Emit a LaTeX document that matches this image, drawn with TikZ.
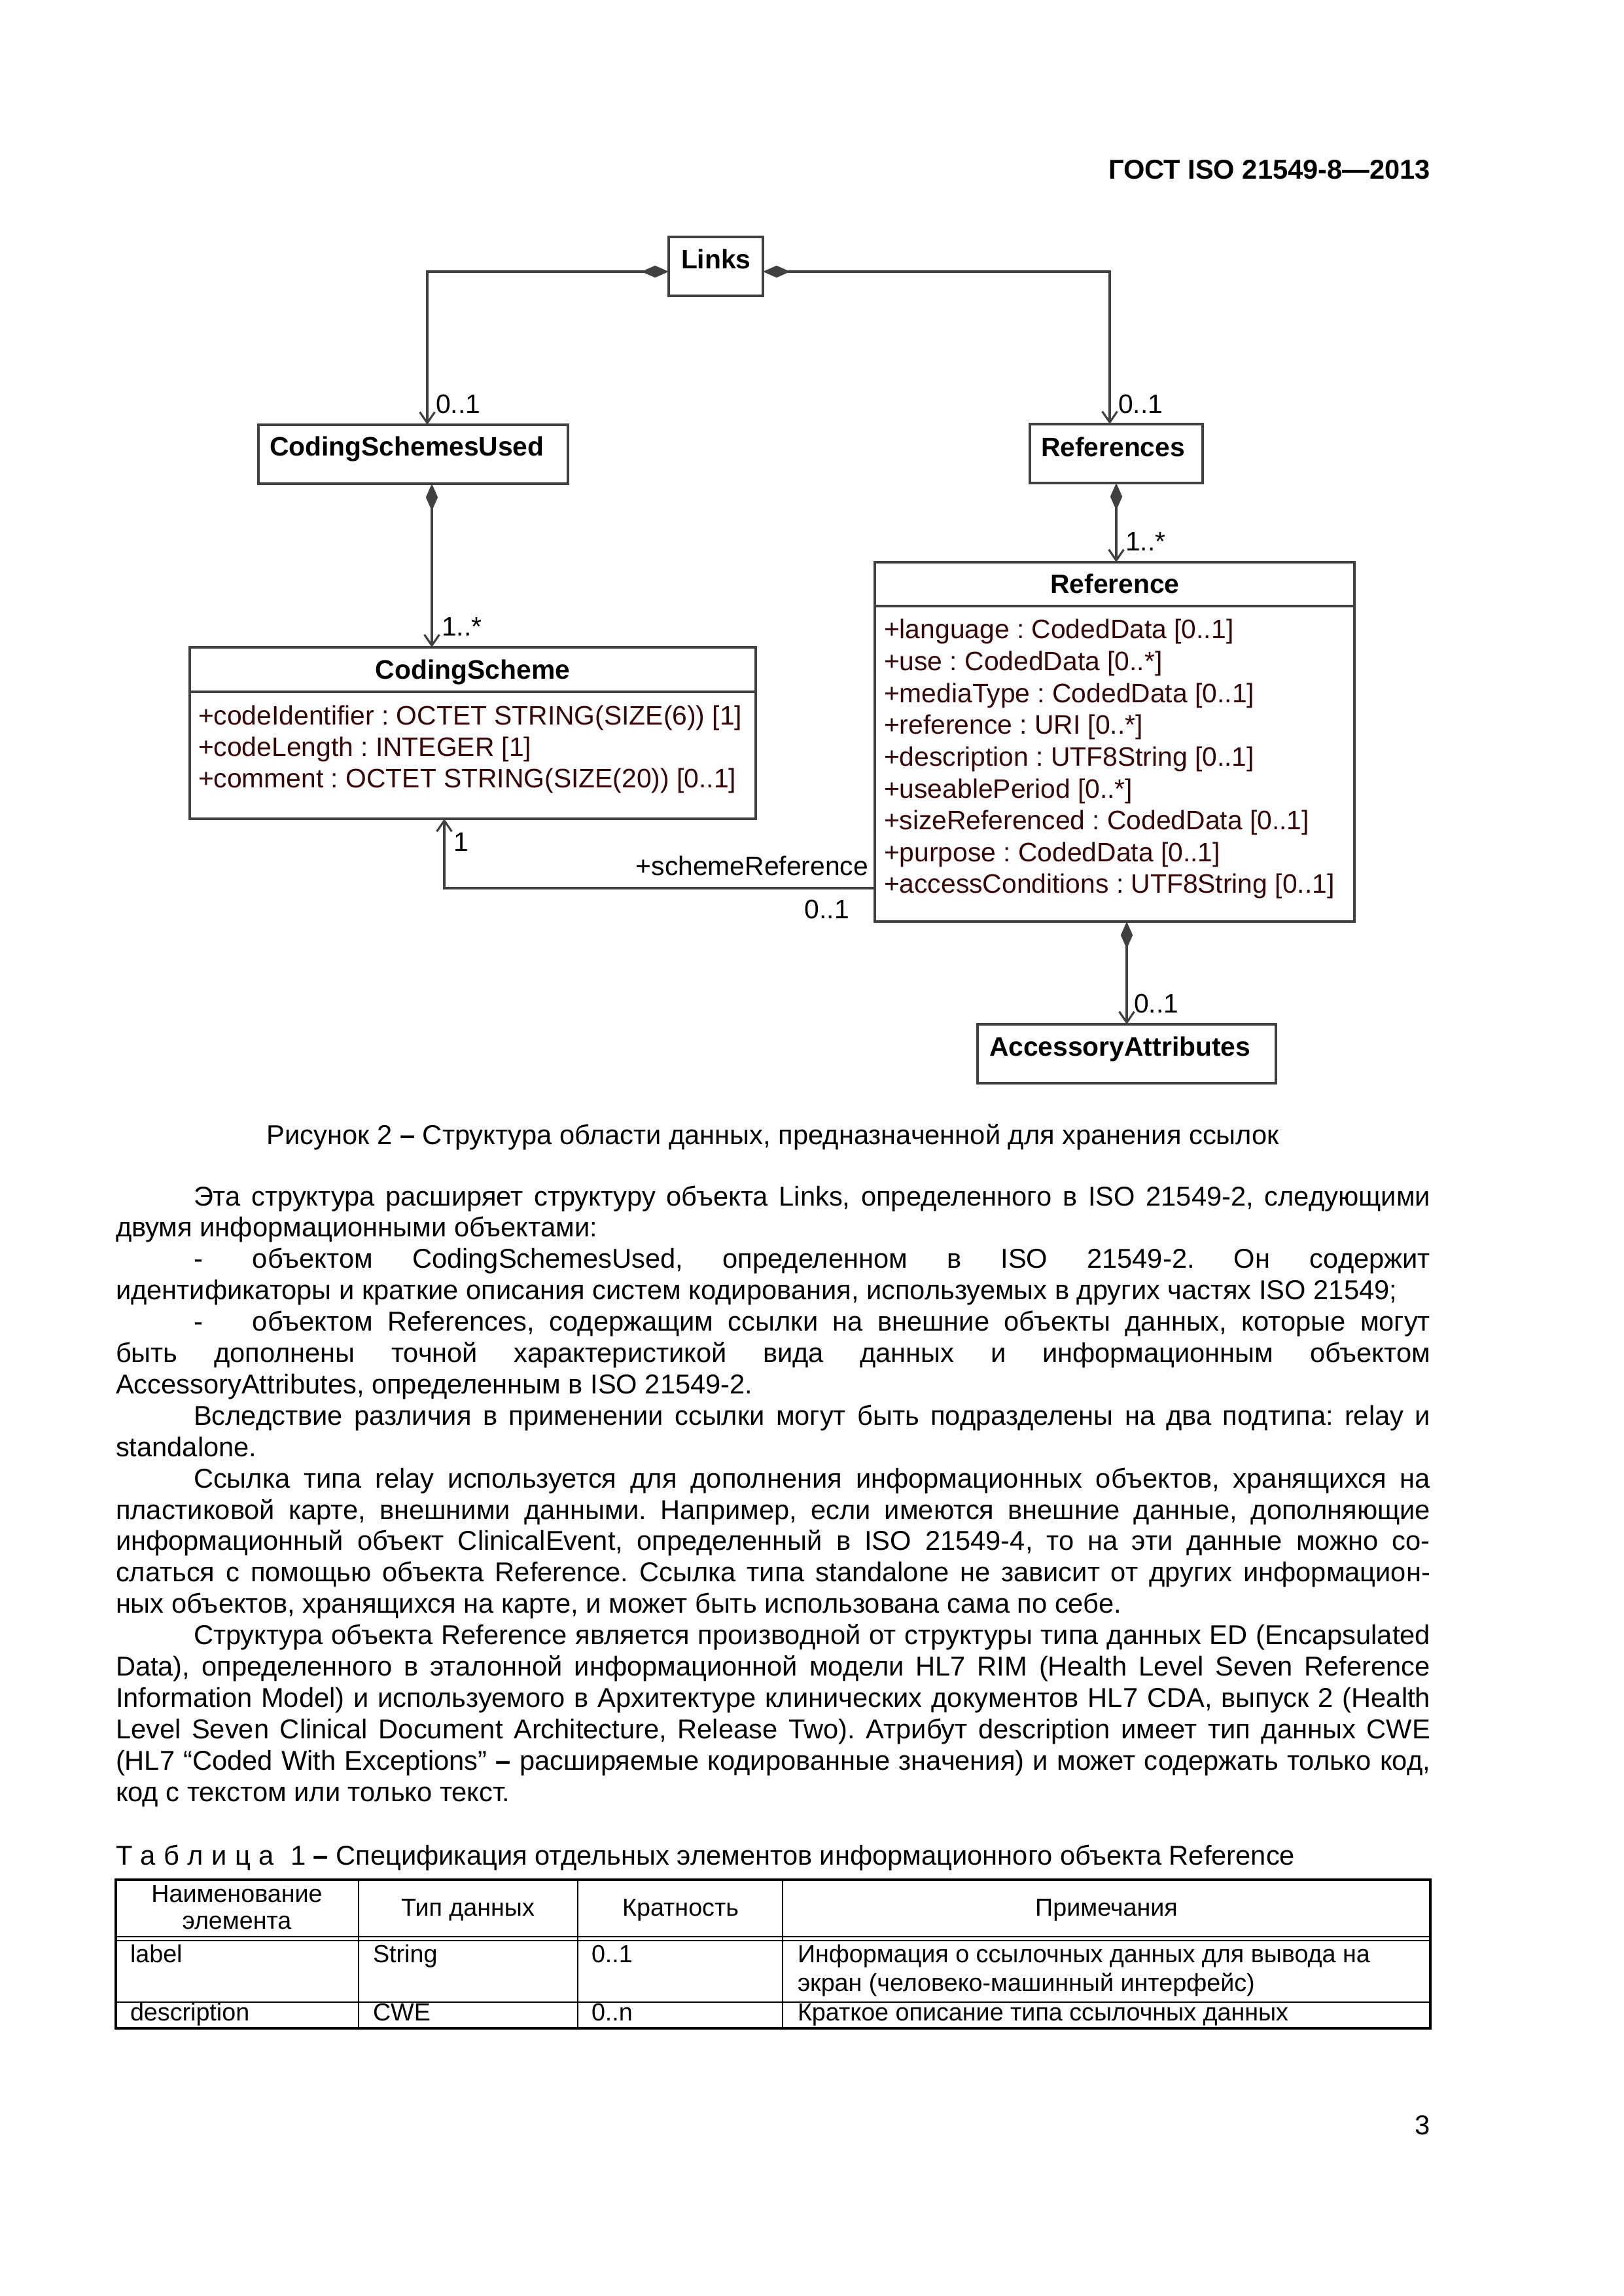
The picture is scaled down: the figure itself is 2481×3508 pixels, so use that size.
\documentclass[tikz,border=0pt]{standalone}
\usepackage{fontspec}
\setmainfont{Liberation Sans}
\usetikzlibrary{arrows.meta,calc,fit}
\frenchspacing
\newlength\pxu \setlength\pxu{0.2401pt}
\definecolor{lc}{RGB}{64,64,64}
\definecolor{ac}{RGB}{55,5,5}
\newcommand\bodyf{\fontsize{10}{11.5}\selectfont}
\newcommand\dgf{\fontsize{9.8}{11.6}\selectfont}
\newcommand\tabf{\fontsize{9.05}{10.8}\selectfont}
\newcommand\jline[5]{\node[txt] (#1) at (#2,#3) {\makebox[#4\pxu][s]{#5}};}
\newcommand\lline[4]{\node[txt] (#1) at (#2,#3) {#4};}
\tikzset{
  every node/.style={inner sep=0pt, outer sep=0pt},
  txt/.style={anchor=base west, font=\bodyf},
  box/.style={draw=lc, line width=0.85pt},
  cname/.style={anchor=base west, font=\dgf\bfseries},
  cnamec/.style={anchor=base, font=\dgf\bfseries},
  attr/.style={anchor=base west, font=\dgf, text=ac},
  mult/.style={anchor=base west, font=\dgf},
  multe/.style={anchor=base east, font=\dgf},
  comp/.style={draw=lc, line width=0.75pt, {Diamond[length=10pt,width=4.4pt,fill=lc]}-{Straight Barb[length=4pt,width=5.5pt]}},
  assoc/.style={draw=lc, line width=0.75pt, -{Straight Barb[length=4pt,width=5.5pt]}},
  tabtxt/.style={anchor=base west, font=\tabf},
  tabhead/.style={anchor=base, font=\tabf},
}
\begin{document}
\begin{tikzpicture}[x=0.2401pt, y=-0.2401pt]
\fill[white] (0,0) rectangle (2481,3508);
\useasboundingbox (0,0) rectangle (2481,3508);

% header
\node[anchor=base east, font=\bodyf\bfseries] (hdr) at (2186,274) {ГОСТ ISO 21549-8—2013};

% ---------- diagram boxes ----------
\node[box, fit={(1022,362) (1166,452)}] (links) {};
\node[box, fit={(395,649) (868,739)}] (csu) {};
\node[box, fit={(1574,648) (1838,738)}] (refs) {};
\node[box, fit={(290,989) (1155,1251)}] (cs) {};
\node[box, fit={(1337,859) (2070,1408)}] (ref) {};
\node[box, fit={(1494,1565) (1950,1655)}] (acc) {};
\coordinate (csd) at (0,1057);
\coordinate (refd) at (0,926);
\draw[box] (cs.west |- csd) -- (cs.east |- csd);
\draw[box] (ref.west |- refd) -- (ref.east |- refd);

% class names
\node[cname] (nlinks) at (1041,411) {Links};
\node[cname] (ncsu) at (412,697) {CodingSchemesUsed};
\node[cname] (nrefs) at (1591,698) {References};
\node[cname] (nacc) at (1512,1613) {AccessoryAttributes};
\node[cnamec] (ncs) at (722.5,1037) {CodingScheme};
\node[cnamec] (nref) at (1704,907) {Reference};

% attributes
\node[attr] (a1) at (303,1107) {+codeIdentifier : OCTET STRING(SIZE(6)) [1]};
\node[attr] (a2) at (303,1155) {+codeLength : INTEGER [1]};
\node[attr] (a3) at (303,1203) {+comment : OCTET STRING(SIZE(20)) [0..1]};

\node[attr] (r1) at (1351,976) {+language : CodedData [0..1]};
\node[attr] (r2) at (1351,1024.6) {+use : CodedData [0..*]};
\node[attr] (r3) at (1351,1073.2) {+mediaType : CodedData [0..1]};
\node[attr] (r4) at (1351,1121.8) {+reference : URI [0..*]};
\node[attr] (r5) at (1351,1170.4) {+description : UTF8String [0..1]};
\node[attr] (r6) at (1351,1219) {+useablePeriod [0..*]};
\node[attr] (r7) at (1351,1267.6) {+sizeReferenced : CodedData [0..1]};
\node[attr] (r8) at (1351,1316.2) {+purpose : CodedData [0..1]};
\node[attr] (r9) at (1351,1364.8) {+accessConditions : UTF8String [0..1]};

% connectors
\draw[comp] ($(links.west)+(0,8)$) -| ($(csu.north)+(21.5,0)$);
\draw[comp] ($(links.east)+(0,8)$) -| ($(refs.north)+(-10,0)$);
\coordinate (c3) at ($(csu.south)+(28.5,0)$);
\draw[comp] (c3) -- (c3 |- cs.north);
\draw[comp] (refs.south) -- (refs.south |- ref.north);
\draw[comp] (acc.north |- ref.south) -- (acc.north);
\coordinate (c6) at ($(ref.west)+(0,223.5)$);
\coordinate (c6b) at ($(cs.south)+(-43.5,0)$);
\draw[assoc] (c6) -| (c6b);

% multiplicities
\node[mult] (m1) at (666,632) {0..1};
\node[mult] (m2) at (1709,632) {0..1};
\node[mult] (m3) at (675,972) {1..*};
\node[mult] (m4) at (1720,842) {1..*};
\node[mult] (m5) at (1733,1547) {0..1};
\node[mult] (m6) at (693,1300) {1};
\node[multe] (m7) at (1327,1337) {+schemeReference};
\node[multe] (m8) at (1298,1403) {0..1};

% caption
\node[anchor=base, font=\bodyf] (cap) at (1181.5,1748) {Рисунок 2 {\bfseries –} Структура области данных, предназначенной для хранения ссылок};

% body text
\jline{l1}{296}{1842}{1890}{Эта структура расширяет структуру объекта Links, определенного в ISO 21549-2, следующими}
\lline{l2}{177}{1889.9}{двумя информационными объектами:}
\jline{l3}{296}{1937.8}{1890}{\makebox[90\pxu][l]{-}объектом CodingSchemesUsed, определенном в ISO 21549-2. Он содержит}
\lline{l4}{177}{1985.7}{идентификаторы и краткие описания систем кодирования, используемых в других частях ISO 21549;}
\jline{l5}{296}{2033.6}{1890}{\makebox[90\pxu][l]{-}объектом References, содержащим ссылки на внешние объекты данных, которые могут}
\jline{l6}{177}{2081.5}{2009}{быть дополнены точной характеристикой вида данных и информационным объектом}
\lline{l7}{177}{2129.4}{AccessoryAttributes, определенным в ISO 21549-2.}
\jline{l8}{296}{2177.3}{1890}{Вследствие различия в применении ссылки могут быть подразделены на два подтипа: relay и}
\lline{l9}{177}{2225.2}{standalone.}
\jline{l10}{296}{2273.1}{1890}{Ссылка типа relay используется для дополнения информационных объектов, хранящихся на}
\jline{l11}{177}{2321}{2009}{пластиковой карте, внешними данными. Например, если имеются внешние данные, дополняющие}
\jline{l12}{177}{2368.9}{2009}{информационный объект ClinicalEvent, определенный в ISO 21549-4, то на эти данные можно со-}
\jline{l13}{177}{2416.8}{2009}{слаться с помощью объекта Reference. Ссылка типа standalone не зависит от других информацион-}
\lline{l14}{177}{2464.7}{ных объектов, хранящихся на карте, и может быть использована сама по себе.}
\jline{l15}{296}{2512.6}{1890}{Структура объекта Reference является производной от структуры типа данных ED (Encapsulated}
\jline{l16}{177}{2560.5}{2009}{Data), определенного в эталонной информационной модели HL7 RIM (Health Level Seven Reference}
\jline{l17}{177}{2608.4}{2009}{Information Model) и используемого в Архитектуре клинических документов HL7 CDA, выпуск 2 (Health}
\jline{l18}{177}{2656.3}{2009}{Level Seven Clinical Document Architecture, Release Two). Атрибут description имеет тип данных CWE}
\jline{l19}{177}{2704.2}{2009}{(HL7 “Coded With Exceptions” {\bfseries –} расширяемые кодированные значения) и может содержать только код,}
\lline{l20}{177}{2752.1}{код с текстом или только текст.}

% table title
\node[txt] (ttl) at (177,2849) {Т\hspace{3pt}а\hspace{3pt}б\hspace{3pt}л\hspace{3pt}и\hspace{3pt}ц\hspace{3pt}а\hspace{6pt}1 {\bfseries –} Спецификация отдельных элементов информационного объекта Reference};

% table grid
\draw[line width=0.5pt] (548,2872) -- (548,3099);
\draw[line width=0.5pt] (883,2872) -- (883,3099);
\draw[line width=0.5pt] (1196,2872) -- (1196,3099);
\draw[line width=0.5pt] (177,2959) -- (2186,2959);
\draw[line width=0.5pt] (177,2965) -- (2186,2965);
\draw[line width=0.5pt] (177,3059) -- (2186,3059);
\draw[line width=0.8pt] (177,2872) rectangle (2186,3099);

% table text
\node[tabhead] (h1a) at (362,2906) {Наименование};
\node[tabhead] (h1b) at (362,2947) {элемента};
\node[tabhead] (h2) at (715,2927) {Тип данных};
\node[tabhead] (h3) at (1040,2927) {Кратность};
\node[tabhead] (h4) at (1691,2927) {Примечания};
\node[tabtxt] (c11) at (199,2998) {label};
\node[tabtxt] (c12) at (570,2998) {String};
\node[tabtxt] (c13) at (904,2998) {0..1};
\node[tabtxt] (c14) at (1219,2998) {Информация о ссылочных данных для вывода на};
\node[tabtxt] (c14b) at (1219,3042) {экран (человеко-машинный интерфейс)};
\node[tabtxt] (c21) at (199,3087) {description};
\node[tabtxt] (c22) at (570,3087) {CWE};
\node[tabtxt] (c23) at (904,3087) {0..n};
\node[tabtxt] (c24) at (1219,3087) {Краткое описание типа ссылочных данных};

% page number
\node[anchor=base east, font=\bodyf] (pg) at (2186,3261) {3};
\end{tikzpicture}
\end{document}
